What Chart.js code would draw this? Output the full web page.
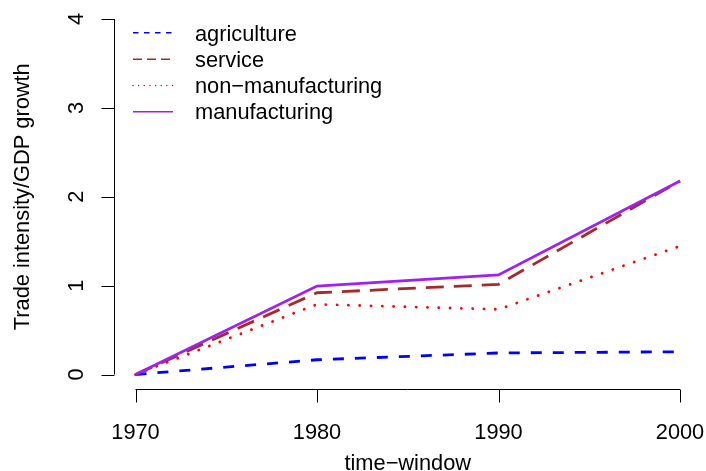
<!DOCTYPE html>
<html>
<head>
<meta charset="utf-8">
<script src="https://cdn.jsdelivr.net/npm/chart.js@4"></script>
<style>
  body { margin: 0; background: #fff; }
  #wrap { width: 706px; height: 471px; }
</style>
</head>
<body>
<div id="wrap"><canvas id="tradeChart" width="706" height="471"></canvas></div>
<script>
var years = [1970, 1980, 1990, 2000];
var agriculture = [0, 0.166, 0.242, 0.256];
var service = [0, 0.92, 1.015, 2.177];
var nonManufacturing = [0, 0.79, 0.733, 1.445];
var manufacturing = [0, 0.995, 1.12, 2.177];

var xTicks = [1970, 1980, 1990, 2000];
var yTicks = [0, 1, 2, 3, 4];
var seriesNames = ["agriculture", "service", "non\u2212manufacturing", "manufacturing"];

var FONT = "21.8px 'Liberation Sans', Arial, sans-serif";

function toPoints(vals) {
  return years.map(function (yr, i) {
    return { x: yr, y: vals[i] };
  });
}

// R style axes + legend, drawn with the chart's own scales
var rAxes = {
  id: "rAxes",
  afterDraw: function (chart) {
    var ctx = chart.ctx;
    var xs = chart.scales.x, ys = chart.scales.y;
    ctx.save();
    ctx.strokeStyle = "#000";
    ctx.fillStyle = "#000";
    ctx.lineWidth = 1;
    ctx.font = FONT;

    // x axis
    var axY = 389.5;
    var x0 = xs.getPixelForValue(xTicks[0]);
    var x1 = xs.getPixelForValue(xTicks[xTicks.length - 1]);
    ctx.beginPath();
    ctx.moveTo(x0, axY);
    ctx.lineTo(x1, axY);
    xTicks.forEach(function (t) {
      var px = Math.round(xs.getPixelForValue(t)) + 0.5;
      ctx.moveTo(px, axY);
      ctx.lineTo(px, axY + 13);
    });
    ctx.stroke();
    ctx.textAlign = "center";
    ctx.textBaseline = "alphabetic";
    xTicks.forEach(function (t) {
      ctx.fillText(String(t), xs.getPixelForValue(t), 438.5);
    });
    ctx.fillText("time\u2212window", (x0 + x1) / 2, 470);

    // y axis
    var axX = 114.5;
    var yA = ys.getPixelForValue(yTicks[0]);
    var yB = ys.getPixelForValue(yTicks[yTicks.length - 1]);
    ctx.beginPath();
    ctx.moveTo(axX, yA);
    ctx.lineTo(axX, yB);
    yTicks.forEach(function (t) {
      var py = Math.round(ys.getPixelForValue(t)) + 0.5;
      ctx.moveTo(axX, py);
      ctx.lineTo(axX - 13, py);
    });
    ctx.stroke();
    yTicks.forEach(function (t) {
      ctx.save();
      ctx.translate(82.5, ys.getPixelForValue(t));
      ctx.rotate(-Math.PI / 2);
      ctx.fillText(String(t), 0, 0);
      ctx.restore();
    });
    ctx.save();
    ctx.translate(28.5, (yA + yB) / 2);
    ctx.rotate(-Math.PI / 2);
    ctx.fillText("Trade intensity/GDP growth", 0, 0);
    ctx.restore();

    // legend: thinner strokes, dash pattern scaled down with the width
    var lineY = [32.7, 59.3, 85.5, 111.7];
    var textY = [40.7, 66.7, 92.7, 118.5];
    ctx.textAlign = "left";
    chart.data.datasets.forEach(function (ds, i) {
      var k = 0.5;
      ctx.save();
      ctx.strokeStyle = ds.borderColor;
      ctx.lineWidth = ds.borderWidth * k;
      ctx.lineCap = ds.borderCapStyle || "butt";
      ctx.setLineDash((ds.borderDash || []).map(function (d) { return d * k; }));
      ctx.beginPath();
      ctx.moveTo(133, lineY[i]);
      ctx.lineTo(173, lineY[i]);
      ctx.stroke();
      ctx.restore();
      ctx.fillText(ds.label, 195, textY[i]);
    });
    ctx.restore();
  }
};

new Chart(document.getElementById("tradeChart").getContext("2d"), {
  type: "line",
  data: {
    datasets: [
      {
        label: seriesNames[0],
        data: toPoints(agriculture),
        borderColor: "#0000FF",
        borderWidth: 2.8,
        borderDash: [11, 11],
        order: 3,
      },
      {
        label: seriesNames[1],
        data: toPoints(service),
        borderColor: "#A52A2A",
        borderWidth: 2.8,
        borderDash: [18, 10],
        order: 2,
      },
      {
        label: seriesNames[2],
        data: toPoints(nonManufacturing),
        borderColor: "#FF0000",
        borderWidth: 2.8,
        borderCapStyle: "round",
        borderDash: [0.1, 11.2],
        order: 1,
      },
      {
        label: seriesNames[3],
        data: toPoints(manufacturing),
        borderColor: "#A020F0",
        borderWidth: 2.8,
        order: 0,
      },
    ],
  },
  options: {
    responsive: false,
    animation: false,
    devicePixelRatio: 1,
    layout: {
      padding: { left: 135.5, right: 26, top: 19, bottom: 96.5 },
    },
    elements: {
      point: { radius: 0, hoverRadius: 0 },
      line: { tension: 0, fill: false },
    },
    datasets: {
      line: { clip: false },
    },
    scales: {
      x: { type: "linear", min: 1970, max: 2000, display: false },
      y: { type: "linear", min: 0, max: 4, display: false },
    },
    plugins: {
      legend: { display: false },
      tooltip: { enabled: false },
    },
  },
  plugins: [rAxes],
});
</script>
</body>
</html>
